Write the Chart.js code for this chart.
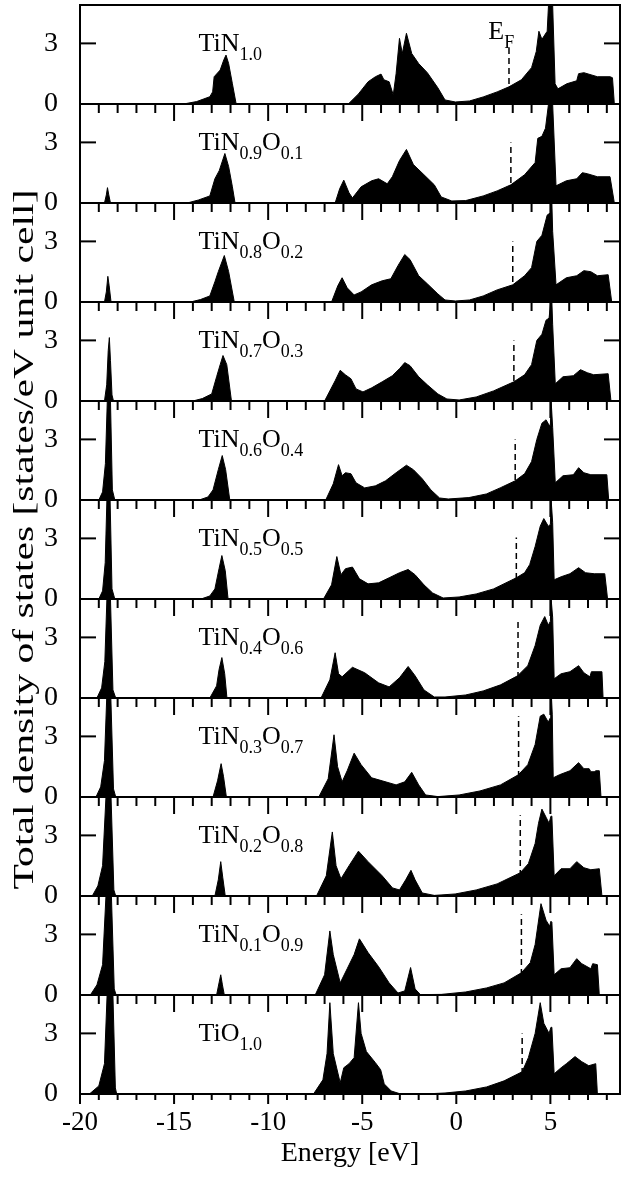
<!DOCTYPE html>
<html>
<head>
<meta charset="utf-8">
<script src="https://cdn.jsdelivr.net/npm/chart.js@4.4.0/dist/chart.umd.min.js"></script>
<style>
  html, body { margin: 0; padding: 0; background: #fff; }
</style>
</head>
<body>
<canvas id="dos" width="621" height="1182"></canvas>
<script>
// formula pieces: normal, subscript, normal, subscript
const formulas = [
    ['TiN', '1.0'],
    ['TiN', '0.9', 'O', '0.1'],
    ['TiN', '0.8', 'O', '0.2'],
    ['TiN', '0.7', 'O', '0.3'],
    ['TiN', '0.6', 'O', '0.4'],
    ['TiN', '0.5', 'O', '0.5'],
    ['TiN', '0.4', 'O', '0.6'],
    ['TiN', '0.3', 'O', '0.7'],
    ['TiN', '0.2', 'O', '0.8'],
    ['TiN', '0.1', 'O', '0.9'],
    ['TiO', '1.0']
];
const fermi = [2.8, 2.9, 3.0, 3.06, 3.13, 3.19, 3.28, 3.31, 3.4, 3.46, 3.5];
const fermiTop = [2.85, 3.0, 3.0, 3.0, 3.0, 3.05, 3.9, 4.0, 4.0, 4.0, 3.0];
const xTicks = [-20, -15, -10, -5, 0, 5];
const yTicks = [0, 3];

// [energy eV, states/eV]
const tin10 = [[-14.5,0],[-13.8,0.12],[-13.1,0.36],[-12.95,0.6],[-12.87,1.35],[-12.55,1.68],[-12.35,2.2],[-12.24,2.42],[-12.1,2.0],[-11.9,1.0],[-11.7,0],
    [-5.74,0],[-5.2,0.5],[-4.69,1.1],[-4.3,1.35],[-4.0,1.48],[-3.85,1.2],[-3.57,1.1],[-3.35,0.45],[-3.2,1.5],[-3.02,3.25],[-2.87,2.5],[-2.65,3.5],[-2.37,2.5],[-2.0,2.0],[-1.54,1.55],[-0.98,0.8],[-0.6,0.2],[-0.05,0.1],[0.7,0.15],[1.43,0.35],[2.17,0.6],[2.8,0.85],[3.46,1.2],[4.0,1.8],[4.25,2.6],[4.39,3.6],[4.55,3.2],[4.83,3.6],[4.9,4.9],[5.12,4.9],[5.25,1.0],[5.4,0.75],[5.87,1.0],[6.4,1.15],[6.5,1.5],[6.78,1.55],[7.5,1.35],[8.17,1.35],[8.3,1.3],[8.4,0]];
const tin09 = [[-18.7,0],[-18.6,0.4],[-18.54,0.76],[-18.47,0.4],[-18.38,0],
    [-14.3,0],[-13.7,0.15],[-13.1,0.35],[-12.83,1.2],[-12.6,1.6],[-12.3,2.45],[-12.1,1.8],[-11.9,0.8],[-11.76,0],
    [-6.44,0],[-6.2,0.7],[-5.98,1.13],[-5.7,0.5],[-5.52,0.25],[-5.06,0.8],[-4.5,1.1],[-4.13,1.2],[-3.67,0.95],[-3.4,1.3],[-3.02,2.1],[-2.65,2.65],[-2.28,1.9],[-1.72,1.4],[-1.17,0.9],[-0.8,0.3],[-0.24,0.1],[0.5,0.12],[1.43,0.35],[2.17,0.6],[2.9,0.9],[3.63,1.4],[4.19,2.0],[4.33,3.2],[4.55,3.3],[4.74,3.7],[4.9,4.9],[5.12,4.9],[5.3,0.85],[5.85,1.1],[6.4,1.2],[6.7,1.5],[6.96,1.45],[7.5,1.3],[8.17,1.3],[8.4,0]];
const tin08 = [[-18.7,0],[-18.6,0.5],[-18.52,1.27],[-18.45,0.8],[-18.35,0],
    [-14.13,0],[-13.6,0.12],[-13.1,0.3],[-12.83,1.0],[-12.65,1.5],[-12.33,2.3],[-12.1,1.5],[-11.8,0],
    [-6.63,0],[-6.3,0.8],[-6.07,1.2],[-5.8,0.7],[-5.43,0.35],[-5.06,0.5],[-4.5,0.85],[-3.94,1.05],[-3.48,1.15],[-3.1,1.8],[-2.74,2.35],[-2.46,2.1],[-2.0,1.3],[-1.54,0.9],[-0.98,0.4],[-0.6,0.1],[-0.05,0.05],[0.7,0.1],[1.43,0.3],[2.17,0.6],[3.0,0.85],[3.63,1.3],[4.0,1.7],[4.28,3.0],[4.55,3.3],[4.83,4.3],[4.98,4.4],[5.03,4.9],[5.08,4.9],[5.12,3.5],[5.3,0.85],[5.85,1.2],[6.4,1.3],[6.78,1.55],[7.15,1.5],[7.5,1.3],[8.07,1.35],[8.26,0]];
const tin07 = [[-18.7,0],[-18.58,0.8],[-18.5,2.5],[-18.44,3.14],[-18.38,2.0],[-18.3,0.3],[-18.22,0],
    [-14.0,0],[-13.5,0.12],[-13.0,0.35],[-12.74,1.2],[-12.55,1.8],[-12.4,2.25],[-12.2,1.8],[-11.95,0],
    [-7.0,0],[-6.44,1.0],[-6.17,1.52],[-5.9,1.3],[-5.6,1.1],[-5.33,0.6],[-4.96,0.45],[-4.5,0.65],[-3.94,0.95],[-3.4,1.25],[-3.02,1.6],[-2.74,1.9],[-2.46,1.75],[-2.0,1.2],[-1.54,0.8],[-0.98,0.35],[-0.5,0.1],[0.15,0.05],[1.06,0.2],[1.98,0.5],[3.06,0.95],[3.63,1.3],[4.0,1.8],[4.28,3.0],[4.55,3.3],[4.77,4.0],[4.93,4.1],[5.02,4.9],[5.08,4.9],[5.12,3.8],[5.26,0.85],[5.67,1.2],[6.22,1.25],[6.6,1.55],[6.96,1.4],[7.3,1.3],[8.07,1.35],[8.22,0]];
const tin06 = [[-19.0,0],[-18.8,0.4],[-18.65,1.8],[-18.55,4.9],[-18.38,4.9],[-18.28,0.5],[-18.15,0],
    [-13.67,0],[-13.2,0.15],[-12.93,0.5],[-12.65,1.5],[-12.44,2.2],[-12.26,1.5],[-12.04,0],
    [-6.94,0],[-6.54,0.8],[-6.26,1.75],[-6.07,1.2],[-5.89,1.35],[-5.6,1.3],[-5.33,0.85],[-4.87,0.6],[-4.3,0.7],[-3.76,0.95],[-3.2,1.35],[-2.65,1.72],[-2.28,1.5],[-1.81,1.05],[-1.35,0.5],[-0.89,0.1],[-0.43,0.05],[0.67,0.12],[1.6,0.3],[2.33,0.6],[3.13,0.95],[3.63,1.3],[4.0,1.9],[4.28,3.0],[4.55,3.8],[4.77,3.97],[4.93,3.7],[5.0,3.7],[5.04,4.9],[5.08,4.9],[5.12,3.6],[5.26,0.85],[5.67,1.2],[6.22,1.25],[6.5,1.6],[6.78,1.35],[7.15,1.25],[8.0,1.25],[8.1,0]];
const tin05 = [[-19.0,0],[-18.8,0.4],[-18.66,1.8],[-18.57,4.9],[-18.4,4.9],[-18.3,0.5],[-18.15,0],
    [-13.57,0],[-13.1,0.15],[-12.83,0.5],[-12.61,1.5],[-12.46,2.15],[-12.28,1.4],[-12.13,0],
    [-7.06,0],[-6.63,0.7],[-6.35,2.1],[-6.13,1.2],[-5.89,1.5],[-5.52,1.58],[-5.15,1.0],[-4.69,0.75],[-4.13,0.8],[-3.57,1.05],[-3.02,1.3],[-2.56,1.46],[-2.19,1.2],[-1.72,0.7],[-1.26,0.3],[-0.7,0.05],[0.15,0.1],[1.06,0.25],[1.98,0.5],[3.19,1.05],[3.63,1.3],[3.9,1.7],[4.19,2.6],[4.46,3.6],[4.65,3.98],[4.89,3.6],[5.0,3.7],[5.04,4.9],[5.08,4.9],[5.12,3.8],[5.2,0.95],[5.57,1.1],[6.04,1.25],[6.5,1.55],[6.87,1.3],[7.33,1.25],[7.89,1.25],[8.04,0]];
const tin04 = [[-19.1,0],[-18.85,0.5],[-18.68,1.8],[-18.57,4.9],[-18.38,4.9],[-18.25,0.4],[-18.1,0],
    [-13.1,0],[-12.74,0.6],[-12.61,1.4],[-12.46,2.0],[-12.31,1.2],[-12.19,0],
    [-7.19,0],[-6.72,0.9],[-6.44,2.24],[-6.26,1.2],[-6.07,1.05],[-5.52,1.52],[-4.87,1.25],[-4.13,0.75],[-3.57,0.55],[-3.02,1.0],[-2.56,1.56],[-2.19,1.1],[-1.72,0.4],[-1.17,0.05],[-0.6,0.05],[0.5,0.15],[1.43,0.35],[2.35,0.65],[3.26,1.1],[3.8,1.6],[4.19,2.6],[4.46,3.6],[4.7,4.03],[4.89,3.6],[5.0,3.8],[5.04,4.9],[5.08,4.9],[5.12,4.0],[5.2,0.95],[5.57,1.2],[6.04,1.3],[6.5,1.6],[6.78,1.25],[7.1,1.05],[7.18,1.3],[7.74,1.3],[7.8,0]];
const tin03 = [[-19.15,0],[-18.9,0.5],[-18.7,1.8],[-18.58,4.9],[-18.36,4.9],[-18.22,0.4],[-18.1,0],
    [-12.93,0],[-12.69,0.8],[-12.5,1.65],[-12.37,1.0],[-12.22,0],
    [-7.31,0],[-6.81,0.9],[-6.5,3.08],[-6.31,1.5],[-6.07,0.75],[-5.8,1.3],[-5.43,2.17],[-5.06,1.6],[-4.5,0.95],[-3.94,0.8],[-3.2,0.6],[-2.74,0.75],[-2.37,1.22],[-2.0,0.6],[-1.63,0.1],[-0.98,0.02],[0.15,0.1],[1.26,0.3],[2.35,0.6],[3.3,1.1],[3.8,1.6],[4.19,2.6],[4.46,4.0],[4.65,4.1],[4.89,3.7],[4.98,3.9],[5.02,4.9],[5.06,4.9],[5.1,4.1],[5.15,0.95],[5.48,1.1],[6.04,1.3],[6.5,1.7],[6.78,1.4],[7.06,1.4],[7.15,1.25],[7.33,1.25],[7.42,1.3],[7.6,1.3],[7.69,0]];
const tin02 = [[-19.35,0],[-19.05,0.5],[-18.8,1.5],[-18.62,4.9],[-18.35,4.9],[-18.2,0.3],[-18.1,0],
    [-12.83,0],[-12.65,0.8],[-12.52,1.7],[-12.41,0.9],[-12.28,0],
    [-7.43,0],[-6.91,1.0],[-6.59,3.17],[-6.39,1.5],[-6.13,0.85],[-5.7,1.5],[-5.2,2.22],[-4.69,1.7],[-3.94,1.0],[-3.39,0.4],[-3.02,0.3],[-2.69,0.8],[-2.41,1.27],[-2.19,0.8],[-1.81,0.15],[-1.17,0.03],[-0.06,0.1],[1.06,0.3],[2.17,0.6],[3.4,1.15],[3.83,1.6],[4.19,2.6],[4.37,3.6],[4.55,4.3],[4.77,3.9],[4.93,3.6],[5.03,3.95],[5.08,3.95],[5.2,1.0],[5.57,1.35],[6.04,1.35],[6.4,1.7],[6.78,1.4],[7.15,1.3],[7.6,1.35],[7.74,0]];
const tin01 = [[-19.45,0],[-19.1,0.5],[-18.8,1.5],[-18.62,4.9],[-18.33,4.9],[-18.18,0.3],[-18.08,0],
    [-12.74,0],[-12.61,0.6],[-12.52,1.0],[-12.43,0.5],[-12.33,0],
    [-7.5,0],[-7.0,1.0],[-6.72,3.17],[-6.54,2.0],[-6.17,0.6],[-5.8,1.3],[-5.43,2.0],[-5.15,2.78],[-4.69,2.1],[-4.13,1.4],[-3.57,0.6],[-3.1,0.1],[-2.74,0.2],[-2.43,1.36],[-2.19,0.3],[-1.91,0.02],[-0.8,0.03],[0.5,0.15],[1.61,0.35],[2.54,0.6],[3.46,1.1],[3.93,1.6],[4.19,2.5],[4.5,4.52],[4.77,3.7],[4.96,3.4],[5.03,3.65],[5.08,3.6],[5.2,1.0],[5.57,1.3],[6.04,1.35],[6.4,1.8],[6.67,1.55],[7.15,1.3],[7.25,1.55],[7.5,1.5],[7.6,0]];
const tio10 = [[-19.5,0],[-19.0,0.4],[-18.7,1.5],[-18.56,4.9],[-18.25,4.9],[-18.12,0.3],[-18.05,0],
    [-7.59,0],[-7.09,0.7],[-6.87,2.0],[-6.72,4.52],[-6.54,2.0],[-6.17,0.55],[-5.98,1.3],[-5.7,1.5],[-5.43,1.8],[-5.2,4.52],[-5.06,3.0],[-4.78,2.1],[-4.3,1.55],[-4.02,1.2],[-3.83,0.5],[-3.46,0.15],[-3.02,0.02],[-1.72,0],[-0.6,0.05],[0.5,0.15],[1.61,0.35],[2.54,0.65],[3.5,1.1],[3.83,1.8],[4.19,3.0],[4.46,4.52],[4.65,3.5],[4.93,3.0],[5.03,3.3],[5.08,3.3],[5.2,1.0],[5.57,1.3],[5.85,1.5],[6.31,1.85],[6.67,1.6],[7.04,1.4],[7.41,1.5],[7.5,0]];

const curves = [tin10, tin09, tin08, tin07, tin06, tin05, tin04, tin03, tin02, tin01, tio10];

const serif = '"Liberation Serif", "Times New Roman", serif';

const scales = {
    x: {
        type: 'linear', min: -20, max: 8.7, position: 'bottom',
        afterBuildTicks: (s) => { s.ticks = xTicks.map((v) => ({ value: v })); },
        afterFit: (s) => { s.height = 88; s.paddingLeft = 0; s.paddingRight = 0; },
        grid: { display: false, drawTicks: false },
        border: { display: false },
        ticks: { color: '#000', font: { family: serif, size: 27 }, padding: 13, maxRotation: 0, callback: (v) => String(v) },
        title: { display: true, text: 'Energy [eV]', color: '#000', font: { family: serif, size: 28 }, padding: { top: 0, bottom: 12 } }
    }
};
// left stacked axes are laid out last-defined on top, so add them bottom panel first
for (let i = curves.length - 1; i >= 0; i--) {
    scales['y' + i] = {
        type: 'linear', min: 0, max: 4.9, position: 'left', stack: 'dos', stackWeight: 1,
        afterBuildTicks: (s) => { s.ticks = yTicks.map((v) => ({ value: v })); },
        afterFit: (s) => { s.width = 80; s.paddingTop = 0; s.paddingBottom = 0; },
        grid: { display: false, drawTicks: false },
        border: { display: false },
        ticks: { color: '#000', font: { family: serif, size: 28 }, padding: 22 }
    };
}

const datasets = curves.map((c, i) => ({
    data: c.map(([x, y]) => ({ x, y })),
    yAxisID: 'y' + i,
    fill: 'origin',
    backgroundColor: '#000',
    borderColor: '#000',
    borderWidth: 1,
    pointRadius: 0,
    tension: 0
}));
fermi.forEach((e, i) => {
    datasets.push({
        data: [{ x: e, y: 0 }, { x: e, y: fermiTop[i] }],
        yAxisID: 'y' + i,
        fill: false,
        borderColor: '#000',
        borderWidth: 1.5,
        borderDash: [6, 4],
        pointRadius: 0
    });
});

function seg(ctx, x1, y1, x2, y2) {
    ctx.beginPath();
    ctx.moveTo(x1, y1);
    ctx.lineTo(x2, y2);
    ctx.stroke();
}

function formula(ctx, parts, px, py) {
    parts.forEach((part, k) => {
        const sub = k % 2 === 1;
        ctx.font = (sub ? '18px ' : '26px ') + serif;
        ctx.fillText(part, px, sub ? py + 9 : py);
        px += ctx.measureText(part).width;
    });
}

const panelFrame = {
    id: 'panelFrame',
    afterDraw(chart) {
        const ctx = chart.ctx;
        const xs = chart.scales.x;
        const area = chart.chartArea;
        ctx.save();
        ctx.strokeStyle = '#000';
        ctx.fillStyle = '#000';
        ctx.lineWidth = 2;
        ctx.strokeRect(area.left, area.top, area.right - area.left, area.bottom - area.top);
        curves.forEach((c, i) => {
            const ys = chart.scales['y' + i];
            const last = i === curves.length - 1;
            seg(ctx, area.left, ys.bottom, area.right, ys.bottom);
            for (let e = -20; e <= 8; e++) {
                const px = xs.getPixelForValue(e);
                const len = e % 5 === 0 ? (last ? 10 : 17) : (last ? 6 : 9);
                seg(ctx, px, ys.bottom, px, ys.bottom + len);
            }
            yTicks.filter((v) => v > 0).forEach((v) => {
                const py = ys.getPixelForValue(v);
                seg(ctx, area.left, py, area.left + 16, py);
                seg(ctx, area.right - 16, py, area.right, py);
            });
            ctx.textBaseline = 'alphabetic';
            ctx.textAlign = 'left';
            formula(ctx, formulas[i], xs.getPixelForValue(-13.7), ys.getPixelForValue(2.6));
            if (i === 0) {
                formula(ctx, ['E', 'F'], xs.getPixelForValue(1.7), ys.getPixelForValue(3.2));
            }
        });
        // y title, stretched along its length like the original
        const title = 'Total density of states [states/eV unit cell]';
        ctx.translate(25, (area.top + area.bottom) / 2 - 10);
        ctx.rotate(-Math.PI / 2);
        ctx.font = '29px ' + serif;
        ctx.scale(700 / ctx.measureText(title).width, 1);
        ctx.textAlign = 'center';
        ctx.textBaseline = 'middle';
        ctx.fillText(title, 0, 0);
        ctx.restore();
    }
};

new Chart(document.getElementById('dos'), {
    type: 'line',
    data: { datasets },
    options: {
        responsive: false,
        animation: false,
        devicePixelRatio: 1,
        layout: { padding: { top: 5, right: 1, left: 0, bottom: 0 } },
        scales,
        plugins: { legend: { display: false }, tooltip: { enabled: false } }
    },
    plugins: [panelFrame]
});
</script>
</body>
</html>
